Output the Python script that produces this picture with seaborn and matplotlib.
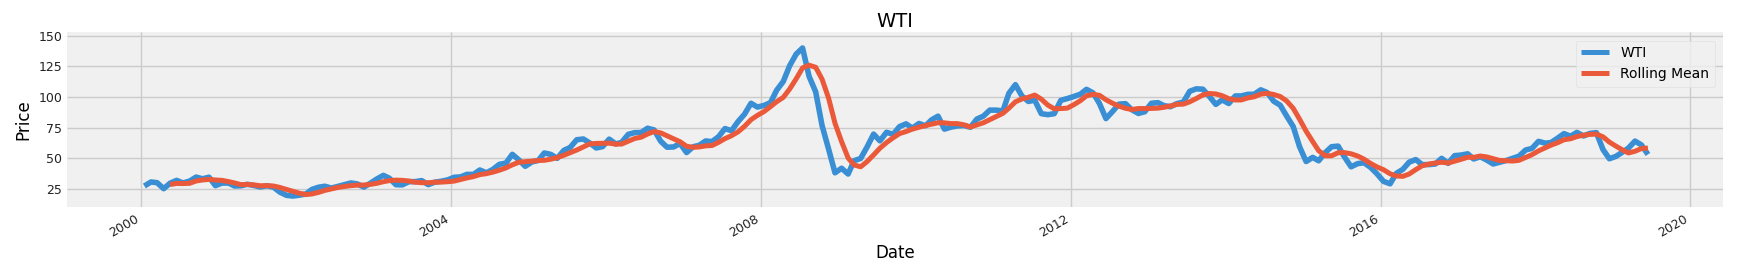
import matplotlib
matplotlib.use("Agg")
import matplotlib.pyplot as plt
import seaborn as sns
import pandas as pd
import numpy as np

# Monthly WTI price (USD/bbl), Jan 2000 - Jun 2019
wti_2000 = [27.2, 30.5, 29.9, 25.0, 29.5, 31.8, 29.7, 31.2, 34.5, 33.1, 34.4, 27.5]
wti_2001 = [29.6, 29.6, 27.2, 27.4, 28.6, 27.6, 26.4, 27.4, 26.2, 22.2, 19.6, 19.0]
wti_2002 = [19.7, 20.7, 24.4, 26.2, 27.0, 25.5, 26.9, 28.4, 29.7, 28.9, 26.3, 29.4]
wti_2003 = [32.9, 35.9, 33.6, 28.3, 28.1, 30.7, 30.8, 31.6, 28.3, 30.3, 31.1, 32.2]
wti_2004 = [34.3, 34.7, 36.7, 36.7, 40.3, 38.0, 40.7, 44.9, 45.9, 53.1, 48.5, 43.3]
wti_2005 = [46.8, 48.1, 54.2, 53.0, 49.8, 56.3, 58.7, 65.0, 65.6, 62.4, 58.3, 59.4]
wti_2006 = [65.5, 61.6, 62.9, 69.4, 70.8, 70.9, 74.4, 73.0, 63.8, 58.9, 59.1, 62.0]
wti_2007 = [54.5, 59.3, 60.4, 64.0, 63.5, 67.5, 74.1, 72.4, 79.9, 85.8, 94.8, 91.7]
wti_2008 = [93.0, 95.4, 105.5, 112.6, 125.4, 135.0, 140.0, 116.7, 104.1, 76.6, 57.3, 38.0]
wti_2009 = [41.7, 37.0, 47.9, 49.7, 59.0, 69.6, 64.1, 71.1, 69.4, 75.7, 78.0, 74.5]
wti_2010 = [78.3, 76.4, 81.2, 84.3, 73.7, 75.3, 76.3, 76.6, 75.2, 81.9, 84.3, 89.2]
wti_2011 = [89.2, 88.6, 102.9, 110.0, 100.9, 96.3, 97.3, 86.3, 85.5, 86.3, 97.2, 98.6]
wti_2012 = [100.3, 102.2, 106.2, 103.3, 94.7, 82.3, 87.9, 94.1, 94.5, 89.5, 86.5, 87.9]
wti_2013 = [94.8, 95.3, 92.9, 92.0, 94.5, 95.8, 104.6, 106.6, 106.3, 100.5, 93.9, 97.6]
wti_2014 = [94.6, 100.8, 100.8, 102.1, 102.2, 105.8, 103.6, 96.5, 93.2, 84.4, 75.8, 59.3]
wti_2015 = [47.2, 50.6, 47.8, 54.5, 59.3, 59.8, 50.9, 42.9, 45.5, 46.2, 42.4, 37.2]
wti_2016 = [31.0, 29.0, 37.5, 40.8, 46.7, 48.8, 44.7, 44.7, 45.2, 49.8, 45.7, 52.0]
wti_2017 = [52.5, 53.5, 49.3, 51.1, 48.5, 45.2, 46.6, 48.0, 49.8, 51.6, 56.6, 57.9]
wti_2018 = [63.7, 62.2, 62.7, 66.3, 70.0, 67.9, 71.0, 68.1, 70.2, 70.8, 57.0, 49.5]
wti_2019 = [51.4, 54.9, 58.2, 63.9, 60.8, 53.0]

# Rolling mean, May 2000 - Jun 2019
roll_2000 = [28.4, 29.3, 29.2, 29.4, 31.3, 32.1, 32.6, 32.1]
roll_2001 = [31.8, 30.8, 29.7, 28.3, 28.5, 28.1, 27.4, 27.5, 27.2, 26.0, 24.4, 22.9]
roll_2002 = [21.3, 20.2, 20.7, 22.0, 23.6, 24.8, 26.0, 26.8, 27.5, 27.9, 28.0, 28.5]
roll_2003 = [29.4, 30.7, 31.6, 32.0, 31.8, 31.3, 30.3, 29.9, 29.9, 30.3, 30.4, 30.7]
roll_2004 = [31.2, 32.5, 33.8, 34.9, 36.5, 37.3, 38.5, 40.1, 42.0, 44.5, 46.6, 47.1]
roll_2005 = [47.5, 48.0, 48.2, 49.1, 50.4, 52.3, 54.4, 56.6, 59.1, 61.6, 62.0, 62.1]
roll_2006 = [62.2, 61.4, 61.5, 63.8, 66.0, 67.1, 69.7, 71.7, 70.6, 68.2, 65.8, 63.4]
roll_2007 = [59.7, 58.8, 59.1, 60.0, 60.3, 62.9, 65.9, 68.3, 71.5, 75.9, 81.4, 84.9]
roll_2008 = [88.0, 92.1, 96.1, 99.6, 106.4, 114.8, 123.7, 125.9, 124.2, 114.5, 98.9, 78.5]
roll_2009 = [63.5, 50.1, 44.4, 42.9, 47.1, 52.6, 58.1, 62.7, 66.6, 70.0, 71.7, 73.7]
roll_2010 = [75.2, 76.6, 77.7, 78.9, 78.8, 78.2, 78.2, 77.2, 75.4, 77.1, 78.9, 81.4]
roll_2011 = [84.0, 86.6, 90.8, 96.0, 98.3, 99.7, 101.5, 98.2, 93.3, 90.3, 90.5, 90.8]
roll_2012 = [93.6, 96.9, 100.9, 102.1, 101.3, 97.7, 94.9, 92.5, 90.7, 89.7, 90.5, 90.5]
roll_2013 = [90.6, 90.8, 91.5, 92.6, 93.9, 94.1, 96.0, 98.7, 101.6, 102.8, 102.4, 101.0]
roll_2014 = [98.6, 97.5, 97.5, 99.2, 100.1, 102.3, 102.9, 102.0, 100.3, 96.7, 90.7, 81.8]
roll_2015 = [72.0, 63.5, 56.1, 51.9, 51.9, 54.4, 54.5, 53.5, 51.7, 49.1, 45.6, 42.8]
roll_2016 = [40.5, 37.2, 35.4, 35.1, 37.0, 40.6, 43.7, 45.1, 46.0, 46.6, 46.0, 47.5]
roll_2017 = [49.0, 50.7, 50.6, 51.7, 51.0, 49.5, 48.1, 47.9, 47.6, 48.2, 50.5, 52.8]
roll_2018 = [55.9, 58.4, 60.6, 62.6, 65.0, 65.8, 67.6, 68.7, 69.4, 69.6, 67.4, 63.1]
roll_2019 = [59.8, 56.7, 54.2, 55.6, 57.8, 58.2]

y_ticks = [25, 50, 75, 100, 125, 150]

wti = (wti_2000 + wti_2001 + wti_2002 + wti_2003 + wti_2004 + wti_2005 + wti_2006
       + wti_2007 + wti_2008 + wti_2009 + wti_2010 + wti_2011 + wti_2012 + wti_2013
       + wti_2014 + wti_2015 + wti_2016 + wti_2017 + wti_2018 + wti_2019)
roll = (roll_2000 + roll_2001 + roll_2002 + roll_2003 + roll_2004 + roll_2005 + roll_2006
        + roll_2007 + roll_2008 + roll_2009 + roll_2010 + roll_2011 + roll_2012 + roll_2013
        + roll_2014 + roll_2015 + roll_2016 + roll_2017 + roll_2018 + roll_2019)

dates = pd.date_range("2000-01-01", periods=len(wti), freq="MS") + pd.Timedelta(days=14)
roll_dates = dates[len(wti) - len(roll):]

df = pd.DataFrame({"Date": dates, "WTI": wti})
df_roll = pd.DataFrame({"Date": roll_dates, "Rolling Mean": roll})

plt.style.use("fivethirtyeight")
plt.rcParams["font.family"] = ["DejaVu Sans"]

fig = plt.figure(figsize=(17.46, 2.70), dpi=100, facecolor="white")
ax = fig.add_axes([67 / 1746, 1 - 207.3 / 270, (1723 - 67) / 1746, (207.3 - 32.3) / 270])
ax.set_facecolor("#f0f0f0")

blue = "#3a8fd4"
red = "#ea5a3a"
sns.lineplot(data=df, x="Date", y="WTI", ax=ax, color=blue, linewidth=4.0, label="WTI")
sns.lineplot(data=df_roll, x="Date", y="Rolling Mean", ax=ax, color=red, linewidth=3.6,
             label="Rolling Mean")

ax.set_xlim(pd.Timestamp("1999-01-15"), pd.Timestamp("2020-06-03"))
ax.set_ylim(9.8, 152.8)
ax.set_yticks(y_ticks)
ax.grid(True, color="#cbcbcb", linewidth=1.0)
for s in ax.spines.values():
    s.set_visible(False)
ax.tick_params(axis="both", which="both", length=0, labelsize=9, colors="#222222")
for lbl in ax.get_xticklabels():
    lbl.set_rotation(30)
    lbl.set_ha("right")

ax.set_title("WTI", fontsize=14, pad=4)
ax.set_xlabel("Date", fontsize=12, labelpad=3)
ax.set_ylabel("Price", fontsize=12, labelpad=4)

leg = ax.legend(loc="upper right", fontsize=10, frameon=True, fancybox=True,
                facecolor="#f0f0f0", edgecolor="#dddddd", framealpha=0.8,
                borderaxespad=0.6)
for line in leg.get_lines():
    line.set_linewidth(3.6)

fig.savefig("out.png", dpi=100, facecolor="white")
